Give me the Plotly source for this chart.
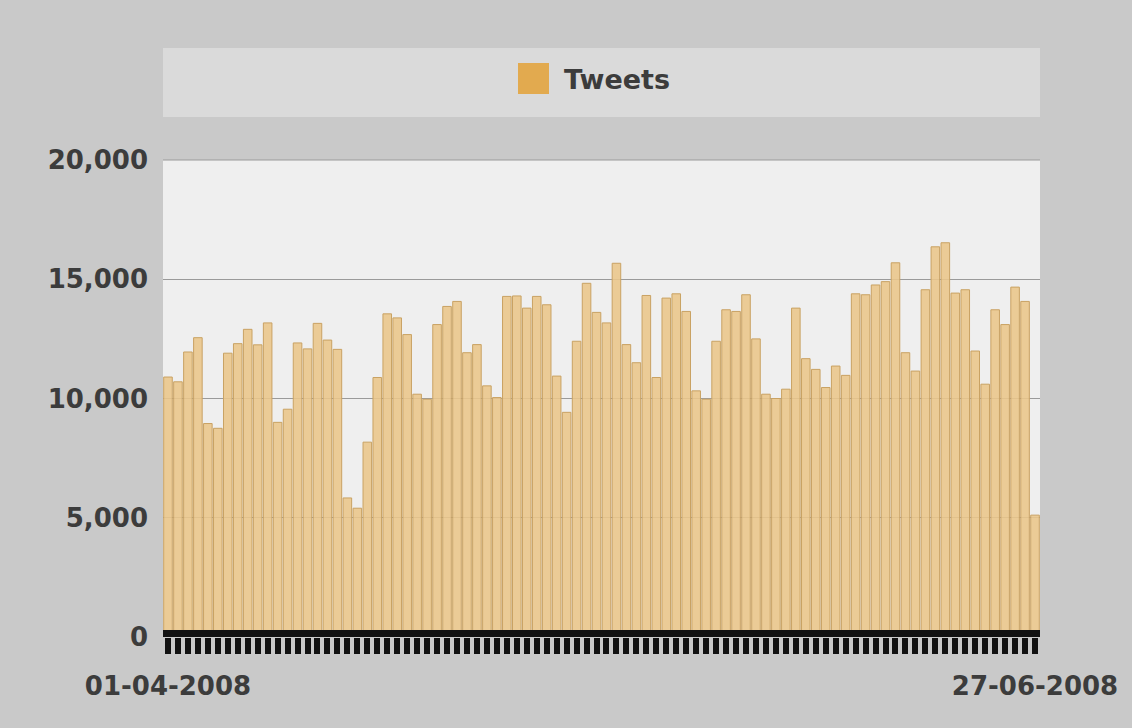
import pandas as pd
import plotly.graph_objects as go

# Daily tweet counts, 01-04-2008 .. 27-06-2008 (88 days)
dates = [d.strftime("%d-%m-%Y") for d in pd.date_range("2008-04-01", "2008-06-27", freq="D")]
tweets = [
    10900, 10700, 11950, 12550, 8950, 8750, 11900, 12300, 12900, 12250,
    13170, 9000, 9550, 12330, 12080, 13150, 12450, 12060, 5830, 5400,
    8170, 10880, 13550, 13380, 12680, 10180, 9970, 13100, 13860, 14070,
    11920, 12260, 10530, 10040, 14280, 14300, 13790, 14280, 13930, 10940,
    9420, 12400, 14830, 13610, 13170, 15670, 12260, 11500, 14320, 10880,
    14210, 14390, 13650, 10320, 9970, 12400, 13720, 13650, 14350, 12500,
    10180, 10000, 10390, 13790, 11670, 11220, 10460, 11360, 10970, 14390,
    14350, 14760, 14900, 15690, 11920, 11150, 14560, 16360, 16530, 14420,
    14560, 11990, 10600, 13720, 13100, 14670, 14070, 5110,
]
y_ticks = [0, 5000, 10000, 15000, 20000]
y_tick_text = ["0", "5,000", "10,000", "15,000", "20,000"]
x_tick_text = [dates[0] if i == 0 else (dates[-1] if i == len(dates) - 1 else "") for i in range(len(dates))]
series_name = "Tweets"

W, H = 1132, 728
L, R, T, B = 163, 1040, 160, 637
pw, ph = R - L, B - T

def px_x(x):
    return (x - L) / pw

def px_y(y):
    return (B - y) / ph

fig = go.Figure()
fig.add_trace(go.Bar(
    x=dates, y=tweets, name=series_name,
    marker=dict(color="rgba(234,198,138,0.88)", line=dict(color="#c9a263", width=1)),
    showlegend=False,
))

label_font = dict(family="DejaVu Sans, sans-serif", size=26, color="#3c3c3c", weight="bold")

fig.update_layout(
    width=W, height=H,
    margin=dict(l=L, r=W - R, t=T, b=H - B),
    paper_bgcolor="#c9c9c9",
    plot_bgcolor="#efefef",
    bargap=0.14,
    xaxis=dict(
        type="category",
        tickmode="array", tickvals=dates, ticktext=x_tick_text,
        ticks="outside", ticklen=16, tickwidth=6, tickcolor="#111111",
        showgrid=False, showline=False, zeroline=False,
        tickfont=label_font, ticklabelstandoff=10,
        range=[-0.5, len(dates) - 0.5],
    ),
    yaxis=dict(
        range=[0, 20000],
        tickmode="array", tickvals=y_ticks, ticktext=y_tick_text,
        showgrid=True, gridcolor="#9a9a9a", gridwidth=1,
        zeroline=False, showline=False, ticks="",
        tickfont=label_font, ticklabelstandoff=14,
    ),
    shapes=[
        # legend panel
        dict(type="rect", xref="paper", yref="paper",
             x0=px_x(163), x1=px_x(1040), y0=px_y(117), y1=px_y(48),
             fillcolor="#dadada", line=dict(width=0), layer="below"),
        # legend swatch
        dict(type="rect", xref="paper", yref="paper",
             x0=px_x(518), x1=px_x(549), y0=px_y(94), y1=px_y(63),
             fillcolor="#e2aa4f", line=dict(width=0)),
        # top border line of plot area
        dict(type="line", xref="paper", yref="paper",
             x0=0, x1=1, y0=1, y1=1, line=dict(color="#9a9a9a", width=1)),
        # black axis band at the baseline
        dict(type="rect", xref="paper", yref="paper",
             x0=0, x1=1, y0=0, y1=7 / ph,
             fillcolor="#111111", line=dict(width=0), layer="above"),
    ],
    annotations=[
        dict(text=series_name, xref="paper", yref="paper",
             x=px_x(562), y=px_y(79), xanchor="left", yanchor="middle",
             showarrow=False, font=dict(label_font, size=27)),
    ],
)

fig.write_html("out.html")
